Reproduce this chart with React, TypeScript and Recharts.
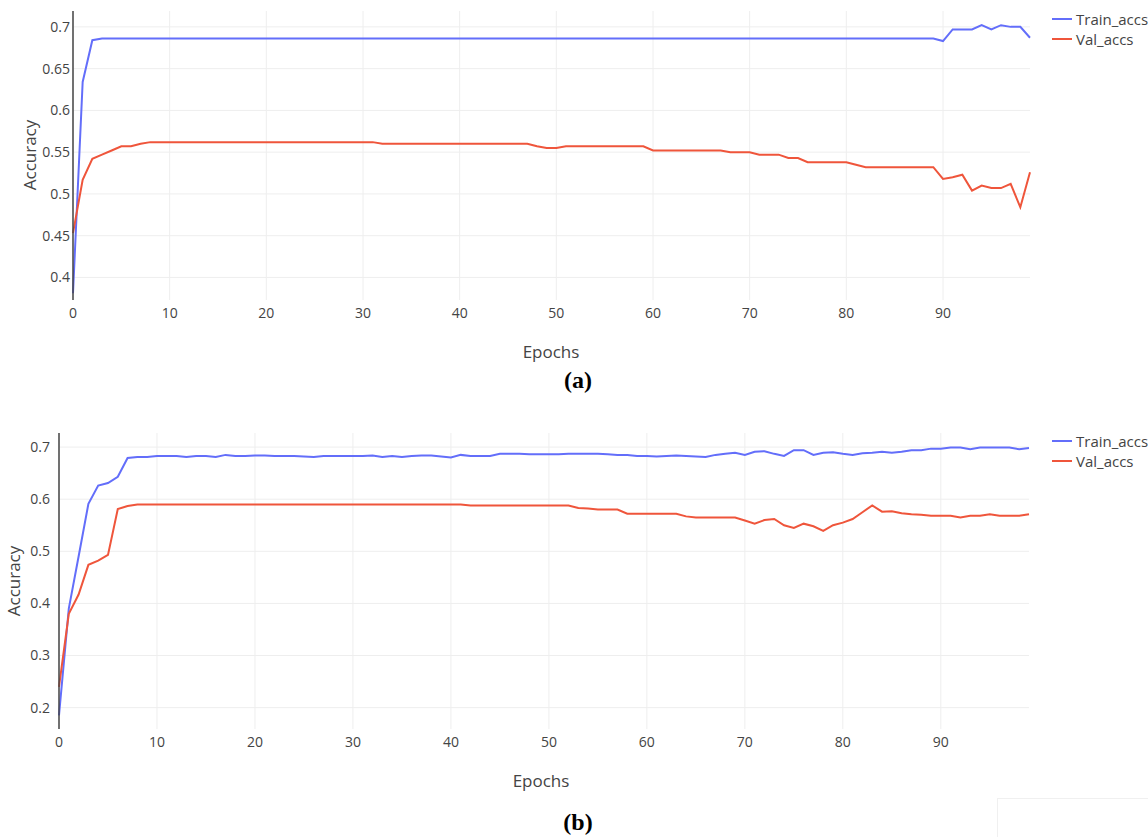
import { CartesianGrid, Line, LineChart, XAxis, YAxis } from 'recharts';

const epochs = [
  0, 1, 2, 3, 4, 5, 6, 7, 8, 9, 10, 11, 12, 13, 14, 15, 16, 17, 18, 19,
  20, 21, 22, 23, 24, 25, 26, 27, 28, 29, 30, 31, 32, 33, 34, 35, 36, 37, 38, 39,
  40, 41, 42, 43, 44, 45, 46, 47, 48, 49, 50, 51, 52, 53, 54, 55, 56, 57, 58, 59,
  60, 61, 62, 63, 64, 65, 66, 67, 68, 69, 70, 71, 72, 73, 74, 75, 76, 77, 78, 79,
  80, 81, 82, 83, 84, 85, 86, 87, 88, 89, 90, 91, 92, 93, 94, 95, 96, 97, 98, 99,
];

const xTicks = [0, 10, 20, 30, 40, 50, 60, 70, 80, 90];

// (a)
const trainAccsA = [
  0.381, 0.634, 0.684, 0.686, 0.686, 0.686, 0.686, 0.686, 0.686, 0.686,
  0.686, 0.686, 0.686, 0.686, 0.686, 0.686, 0.686, 0.686, 0.686, 0.686,
  0.686, 0.686, 0.686, 0.686, 0.686, 0.686, 0.686, 0.686, 0.686, 0.686,
  0.686, 0.686, 0.686, 0.686, 0.686, 0.686, 0.686, 0.686, 0.686, 0.686,
  0.686, 0.686, 0.686, 0.686, 0.686, 0.686, 0.686, 0.686, 0.686, 0.686,
  0.686, 0.686, 0.686, 0.686, 0.686, 0.686, 0.686, 0.686, 0.686, 0.686,
  0.686, 0.686, 0.686, 0.686, 0.686, 0.686, 0.686, 0.686, 0.686, 0.686,
  0.686, 0.686, 0.686, 0.686, 0.686, 0.686, 0.686, 0.686, 0.686, 0.686,
  0.686, 0.686, 0.686, 0.686, 0.686, 0.686, 0.686, 0.686, 0.686, 0.686,
  0.683, 0.697, 0.697, 0.697, 0.702, 0.697, 0.702, 0.7, 0.7, 0.687,
];

const valAccsA = [
  0.453, 0.517, 0.542, 0.547, 0.552, 0.557, 0.557, 0.56, 0.562, 0.562,
  0.562, 0.562, 0.562, 0.562, 0.562, 0.562, 0.562, 0.562, 0.562, 0.562,
  0.562, 0.562, 0.562, 0.562, 0.562, 0.562, 0.562, 0.562, 0.562, 0.562,
  0.562, 0.562, 0.56, 0.56, 0.56, 0.56, 0.56, 0.56, 0.56, 0.56,
  0.56, 0.56, 0.56, 0.56, 0.56, 0.56, 0.56, 0.56, 0.557, 0.555,
  0.555, 0.557, 0.557, 0.557, 0.557, 0.557, 0.557, 0.557, 0.557, 0.557,
  0.552, 0.552, 0.552, 0.552, 0.552, 0.552, 0.552, 0.552, 0.55, 0.55,
  0.55, 0.547, 0.547, 0.547, 0.543, 0.543, 0.538, 0.538, 0.538, 0.538,
  0.538, 0.535, 0.532, 0.532, 0.532, 0.532, 0.532, 0.532, 0.532, 0.532,
  0.518, 0.52, 0.523, 0.504, 0.51, 0.507, 0.507, 0.512, 0.484, 0.526,
];

const yTicksA = [0.4, 0.45, 0.5, 0.55, 0.6, 0.65, 0.7];

// (b)
const trainAccsB = [
  0.185, 0.39, 0.49, 0.591, 0.626, 0.631, 0.643, 0.679, 0.681, 0.681,
  0.683, 0.683, 0.683, 0.681, 0.683, 0.683, 0.681, 0.685, 0.683, 0.683,
  0.684, 0.684, 0.683, 0.683, 0.683, 0.682, 0.681, 0.683, 0.683, 0.683,
  0.683, 0.683, 0.684, 0.681, 0.683, 0.681, 0.683, 0.684, 0.684, 0.682,
  0.68, 0.685, 0.683, 0.683, 0.683, 0.687, 0.687, 0.687, 0.686, 0.686,
  0.686, 0.686, 0.687, 0.687, 0.687, 0.687, 0.686, 0.685, 0.685, 0.683,
  0.683, 0.682, 0.683, 0.684, 0.683, 0.682, 0.681, 0.685, 0.687, 0.689,
  0.685, 0.691, 0.692, 0.687, 0.683, 0.694, 0.694, 0.685, 0.689, 0.69,
  0.687, 0.685, 0.688, 0.689, 0.691, 0.689, 0.691, 0.694, 0.694, 0.697,
  0.697, 0.699, 0.699, 0.696, 0.699, 0.699, 0.699, 0.699, 0.696, 0.698,
];

const valAccsB = [
  0.24, 0.38, 0.417, 0.474, 0.482, 0.493, 0.581, 0.587, 0.59, 0.59,
  0.59, 0.59, 0.59, 0.59, 0.59, 0.59, 0.59, 0.59, 0.59, 0.59,
  0.59, 0.59, 0.59, 0.59, 0.59, 0.59, 0.59, 0.59, 0.59, 0.59,
  0.59, 0.59, 0.59, 0.59, 0.59, 0.59, 0.59, 0.59, 0.59, 0.59,
  0.59, 0.59, 0.588, 0.588, 0.588, 0.588, 0.588, 0.588, 0.588, 0.588,
  0.588, 0.588, 0.588, 0.583, 0.582, 0.58, 0.58, 0.58, 0.572, 0.572,
  0.572, 0.572, 0.572, 0.572, 0.567, 0.565, 0.565, 0.565, 0.565, 0.565,
  0.559, 0.553, 0.56, 0.562, 0.55, 0.545, 0.553, 0.548, 0.539, 0.55,
  0.555, 0.562, 0.575, 0.588, 0.576, 0.577, 0.573, 0.571, 0.57, 0.568,
  0.568, 0.568, 0.565, 0.568, 0.568, 0.571, 0.568, 0.568, 0.568, 0.571,
];

const yTicksB = [0.2, 0.3, 0.4, 0.5, 0.6, 0.7];

const TRAIN = '#636efa';
const VAL = '#ef553b';
const FONT = '"Open Sans", verdana, arial, sans-serif';
const INK = '#444';

const dataA = epochs.map((e, i) => ({ epoch: e, Train_accs: trainAccsA[i], Val_accs: valAccsA[i] }));
const dataB = epochs.map((e, i) => ({ epoch: e, Train_accs: trainAccsB[i], Val_accs: valAccsB[i] }));

function LegendBox({ left, top }: { left: number; top: number }) {
  const items = [
    { name: 'Train_accs', color: TRAIN },
    { name: 'Val_accs', color: VAL },
  ];
  return (
    <div style={{ position: 'absolute', left, top, fontFamily: FONT, fontSize: 15, color: INK }}>
      {items.map((it) => (
        <div key={it.name} style={{ display: 'flex', alignItems: 'center', height: 20, whiteSpace: 'nowrap' }}>
          <svg width={24} height={10} style={{ marginRight: 1 }}>
            <line x1={1} y1={5} x2={21} y2={5} stroke={it.color} strokeWidth={2} />
          </svg>
          <span>{it.name}</span>
        </div>
      ))}
    </div>
  );
}

type PanelProps = {
  data: { epoch: number; Train_accs: number; Val_accs: number }[];
  top: number;
  height: number;
  marginTop: number;
  yAxisWidth: number;
  xAxisHeight: number;
  rightMargin: number;
  yDomain: [number, number];
  yTicks: number[];
  yTickMargin: number;
};

function Panel(p: PanelProps) {
  return (
    <div style={{ position: 'absolute', left: 0, top: p.top }}>
      <LineChart
        width={1148}
        height={p.height}
        data={p.data}
        margin={{ top: p.marginTop, right: p.rightMargin, bottom: 0, left: 0 }}
        style={{ fontFamily: FONT }}
      >
        <CartesianGrid stroke="#eeeeee" strokeWidth={1} horizontalValues={p.yTicks} verticalValues={xTicks} />
        <XAxis
          dataKey="epoch"
          type="number"
          domain={[0, 99]}
          ticks={xTicks}
          height={p.xAxisHeight}
          axisLine={false}
          tickLine={false}
          tickSize={0}
          tickMargin={8}
          tick={{ fill: INK, fontSize: 14 }}
        />
        <YAxis
          type="number"
          domain={p.yDomain}
          ticks={p.yTicks}
          allowDataOverflow
          width={p.yAxisWidth}
          axisLine={{ stroke: INK, strokeWidth: 1.5 }}
          tickLine={false}
          tickSize={0}
          tickMargin={p.yTickMargin}
          tick={{ fill: INK, fontSize: 14 }}
        />
        <Line
          type="linear"
          dataKey="Train_accs"
          stroke={TRAIN}
          strokeWidth={2}
          dot={false}
          isAnimationActive={false}
        />
        <Line
          type="linear"
          dataKey="Val_accs"
          stroke={VAL}
          strokeWidth={2}
          dot={false}
          isAnimationActive={false}
        />
      </LineChart>
    </div>
  );
}

const axisTitle: React.CSSProperties = {
  position: 'absolute',
  fontFamily: FONT,
  fontSize: 17,
  color: INK,
  whiteSpace: 'nowrap',
  lineHeight: '20px',
};

const caption: React.CSSProperties = {
  position: 'absolute',
  fontFamily: '"Liberation Serif", "Times New Roman", serif',
  fontWeight: 'bold',
  fontSize: 24,
  color: '#000',
  lineHeight: '28px',
  transform: 'translate(-50%, -50%)',
};

export default function App() {
  return (
    <div style={{ position: 'absolute', left: 0, top: 0, width: 1148, height: 837, background: '#fff', overflow: 'hidden' }}>
      <Panel
        data={dataA}
        top={0}
        height={400}
        marginTop={11}
        yAxisWidth={73}
        xAxisHeight={100}
        rightMargin={118}
        yDomain={[0.373, 0.719]}
        yTicks={yTicksA}
        yTickMargin={3}
      />
      <Panel
        data={dataB}
        top={420}
        height={417}
        marginTop={13}
        yAxisWidth={59}
        xAxisHeight={108}
        rightMargin={119}
        yDomain={[0.159, 0.727]}
        yTicks={yTicksB}
        yTickMargin={9}
      />
      <LegendBox left={1051} top={9} />
      <LegendBox left={1051} top={431} />
      <div style={{ ...axisTitle, left: 30, top: 155, transform: 'translate(-50%, -50%) rotate(-90deg)' }}>Accuracy</div>
      <div style={{ ...axisTitle, left: 551, top: 352, transform: 'translate(-50%, -50%)' }}>Epochs</div>
      <div style={{ ...caption, left: 578, top: 380 }}>(a)</div>
      <div style={{ ...axisTitle, left: 14, top: 581, transform: 'translate(-50%, -50%) rotate(-90deg)' }}>Accuracy</div>
      <div style={{ ...axisTitle, left: 541, top: 781, transform: 'translate(-50%, -50%)' }}>Epochs</div>
      <div style={{ ...caption, left: 578, top: 822 }}>(b)</div>
      <div style={{ position: 'absolute', left: 997, top: 798, width: 151, height: 40, borderTop: '1px solid #f0f0f0', borderLeft: '1px solid #f0f0f0' }} />
    </div>
  );
}
